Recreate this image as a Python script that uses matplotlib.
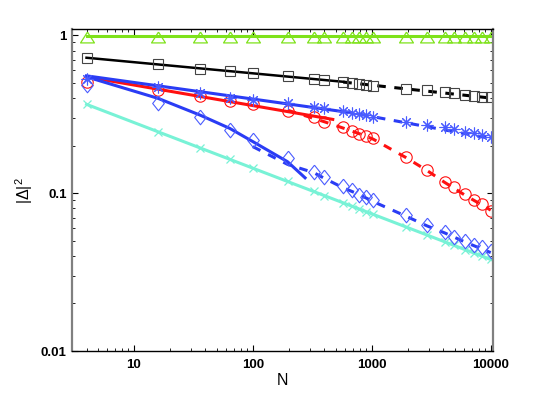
import matplotlib
matplotlib.use("Agg")
import matplotlib.pyplot as plt

plt.rcParams["font.family"] = ["Liberation Sans", "DejaVu Sans"]
plt.rcParams["mathtext.fontset"] = "custom"
plt.rcParams["mathtext.rm"] = "Liberation Sans"
plt.rcParams["mathtext.default"] = "regular"

# system sizes (x positions of the markers)
N = [4, 16, 36, 64, 100, 196, 324, 400, 576, 676, 784, 900, 1024,
     1936, 2916, 4096, 4900, 6084, 7225, 8464, 10000]

# marker values
green_tri = [0.98] * len(N)
black_sq = [0.72, 0.655, 0.61, 0.593, 0.573, 0.552, 0.527, 0.52, 0.507, 0.495,
            0.49, 0.483, 0.478, 0.456, 0.448, 0.438, 0.428, 0.42, 0.414, 0.407, 0.404]
blue_star = [0.53, 0.467, 0.432, 0.398, 0.389, 0.37, 0.352, 0.344, 0.333, 0.323,
             0.316, 0.311, 0.305, 0.283, 0.27, 0.261, 0.254, 0.245, 0.239, 0.233, 0.226]
red_circ = [0.507, 0.45, 0.412, 0.385, 0.365, 0.332, 0.305, 0.283, 0.261, 0.248,
            0.237, 0.23, 0.222, 0.17, 0.14, 0.118, 0.109, 0.099, 0.091, 0.085, 0.0765]
blue_diam = [0.483, 0.374, 0.302, 0.251, 0.217, 0.167, 0.137, 0.127, 0.111, 0.104,
             0.0976, 0.094, 0.0908, 0.073, 0.063, 0.057, 0.0527, 0.050, 0.047, 0.0455, 0.0428]
cyan_x = [0.365, 0.244, 0.193, 0.164, 0.144, 0.119, 0.1024, 0.0964, 0.0868, 0.0828,
          0.0793, 0.0762, 0.0735, 0.0611, 0.0543, 0.0492, 0.0467, 0.0439, 0.0418, 0.0399, 0.038]

# fit lines (solid = small N, dashed = large N)
green_fit_n = [4, 10000]
green_fit = [0.985, 0.985]
cyan_fit_n = [4, 10000]
cyan_fit = [0.365, 0.038]
black_fit_n = [4, 576]
black_fit = [0.72, 0.507]
black_dash_n = [576, 10000]
black_dash = [0.505, 0.40]
blue_fit_n = [4, 576]
blue_fit = [0.553, 0.328]
blue_dash_n = [576, 10000]
blue_dash = [0.33, 0.222]
red_fit_n = [4, 470]
red_fit = [0.545, 0.293]
red_dash_n = [196, 400, 576, 784, 1024, 1936, 2916, 4096, 6084, 8464, 10000]
red_dash = [0.335, 0.283, 0.258, 0.238, 0.22, 0.168, 0.139, 0.117, 0.097, 0.084, 0.078]
diam_fit_n = [4, 16, 36, 64, 100, 196, 275]
diam_fit = [0.545, 0.398, 0.312, 0.257, 0.212, 0.158, 0.125]
diam_dash_n = [100, 196, 324, 400, 576, 784, 1024, 1936, 2916, 4096, 6084, 10000]
diam_dash = [0.197, 0.152, 0.135, 0.124, 0.108, 0.098, 0.0885, 0.0715, 0.062, 0.056, 0.049, 0.042]

c_green = "#7ee21a"
c_blue = "#2a3cf5"
c_blue_m = "#4a5cff"
c_red = "#ff1010"
c_cyan = "#78f2d6"
dash = (0, (2.8, 2.8))
diamond = [(0, 1), (0.8, 0), (0, -1), (-0.8, 0), (0, 1)]
triangle = [(0, 0.78), (-1, -0.78), (1, -0.78), (0, 0.78)]

fig = plt.figure(figsize=(5.45, 3.96), dpi=100)
ax = fig.add_axes([0.1315, 0.1136, 0.7735, 0.8124])

lw = 2.2
ax.plot(cyan_fit_n, cyan_fit, color=c_cyan, lw=lw)
ax.plot(N, cyan_x, ls="none", marker="x", ms=6, mew=0.9, color=c_cyan)
ax.plot(green_fit_n, green_fit, color=c_green, lw=lw)
ax.plot(N, green_tri, ls="none", marker=triangle, ms=10, mew=0.9, mfc="none", mec=c_green)

ax.plot(black_fit_n, black_fit, color="black", lw=lw - 0.4)
ax.plot(black_dash_n, black_dash, color="black", lw=lw, ls=dash)
ax.plot(N, black_sq, ls="none", marker="s", ms=7.2, mew=0.8, mfc="none", mec="#444444")

ax.plot(red_fit_n, red_fit, color=c_red, lw=lw)
ax.plot(red_dash_n, red_dash, color=c_red, lw=lw, ls=dash)
ax.plot(N, red_circ, ls="none", marker="o", ms=8.2, mew=0.8, mfc="none", mec=c_red)

ax.plot(diam_fit_n, diam_fit, color=c_blue, lw=lw)
ax.plot(diam_dash_n, diam_dash, color=c_blue, lw=lw, ls=dash)
ax.plot(N, blue_diam, ls="none", marker=diamond, ms=10.5, mew=0.8, mfc="none", mec=c_blue_m)

ax.plot(blue_fit_n, blue_fit, color=c_blue, lw=lw)
ax.plot(blue_dash_n, blue_dash, color=c_blue, lw=lw, ls=dash)
ax.plot(N, blue_star, ls="none", marker=(8, 2, 0), ms=8.5, mew=0.8, color=c_blue_m)

ax.set_xscale("log")
ax.set_yscale("log")
ax.set_xlim(3, 10500)
ax.set_ylim(0.01, 1.09)
ax.set_xticks([10, 100, 1000, 10000])
ax.set_xticklabels(["10", "100", "1000", "10000"])
ax.set_yticks([0.01, 0.1, 1])
ax.set_yticklabels(["0.01", "0.1", "1"])
for lab in ax.get_xticklabels() + ax.get_yticklabels():
    lab.set_fontweight("bold")
    lab.set_fontsize(9.5)

ax.tick_params(which="both", direction="in", top=True, right=True)
ax.tick_params(which="major", length=4.5, width=0.8)
ax.tick_params(which="minor", length=2.5, width=0.6)
ax.tick_params(axis="x", pad=6)

for side in ["left", "right"]:
    ax.spines[side].set_color("#808080")
    ax.spines[side].set_linewidth(1.6)
for side in ["top", "bottom"]:
    ax.spines[side].set_color("black")
    ax.spines[side].set_linewidth(1.0)

ax.set_xlabel("N", fontsize=11.5, labelpad=1)
ax.set_ylabel("|Δ|$^{2}$", fontsize=11.5, labelpad=4)

fig.savefig("out.png", dpi=100)
